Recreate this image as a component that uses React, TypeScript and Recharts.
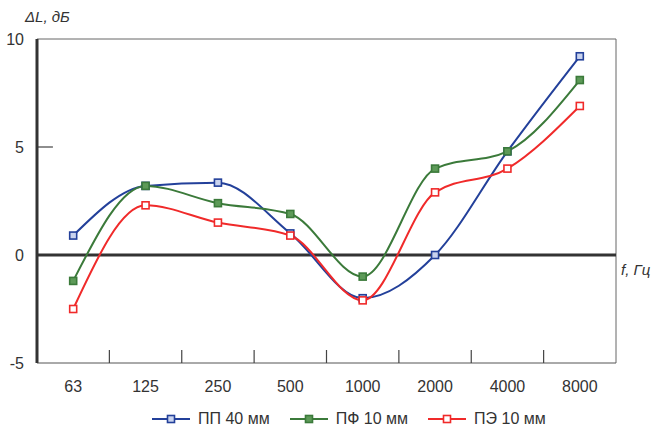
import React from 'react'
import { LineChart, Line, XAxis, YAxis, ReferenceLine } from 'recharts'

const categories = ['63', '125', '250', '500', '1000', '2000', '4000', '8000']
const ppValues = [0.9, 3.2, 3.35, 1.0, -2.0, 0, 4.8, 9.2]
const pfValues = [-1.2, 3.2, 2.4, 1.9, -1.0, 4.0, 4.8, 8.1]
const peValues = [-2.5, 2.3, 1.5, 0.9, -2.1, 2.9, 4.0, 6.9]
const yTicks = [-5, 0, 5, 10]

const series = [
  { key: 'pp', name: 'ПП 40 мм', color: '#23409a', fill: '#c9d3ee' },
  { key: 'pf', name: 'ПФ 10 мм', color: '#3b7a3a', fill: '#5d9a58' },
  { key: 'pe', name: 'ПЭ 10 мм', color: '#f02a2a', fill: '#ffffff' },
]

// each frequency sits in the middle of its own band
const data = categories.map((f, i) => ({
  pos: i,
  f,
  pp: ppValues[i],
  pf: pfValues[i],
  pe: peValues[i],
}))
const catTicks = categories.map((_, i) => i)
const bandEdges = categories.slice(1).map((_, i) => i + 0.5)
const xDomain = [-0.5, categories.length - 0.5]

const FONT = '"Liberation Sans", Arial, sans-serif'

const squareDot = (stroke: string, fill: string) => (props: any) => {
  const { cx, cy, index } = props
  if (cx == null || cy == null) return <g key={`d-${index}`} />
  return (
    <rect
      key={`d-${index}`}
      x={cx - 3.5}
      y={cy - 3.5}
      width={7}
      height={7}
      stroke={stroke}
      strokeWidth={1.6}
      fill={fill}
    />
  )
}

// tick marks between categories, pointing up into the plot
const BandTick = (props: any) => {
  const { x, y } = props
  return <line x1={x} y1={y} x2={x} y2={y - 13} stroke="#444" strokeWidth={1.2} />
}

export default function App() {
  return (
    <div style={{ position: 'absolute', left: 0, top: 0, width: 668, height: 435, background: '#fff', fontFamily: FONT }}>
      <LineChart
        width={668}
        height={435}
        data={data}
        margin={{ top: 39, right: 52, bottom: 42, left: 0 }}
      >
        <XAxis
          dataKey="pos"
          type="number"
          domain={xDomain}
          ticks={catTicks}
          allowDataOverflow
          interval={0}
          tickFormatter={(v: number) => categories[v]}
          height={30}
          axisLine={{ stroke: '#555', strokeWidth: 1 }}
          tickLine={false}
          tickMargin={12}
          tick={{ fill: '#333', fontSize: 16, fontFamily: FONT }}
        />
        <XAxis
          xAxisId="n"
          dataKey="pos"
          type="number"
          domain={xDomain}
          ticks={bandEdges}
          allowDataOverflow
          interval={0}
          mirror
          height={1}
          axisLine={false}
          tickLine={false}
          tickSize={0}
          tickMargin={0}
          tick={<BandTick />}
        />
        <YAxis
          domain={[-5, 10]}
          ticks={yTicks}
          width={37}
          axisLine={{ stroke: '#333', strokeWidth: 3 }}
          tickLine={false}
          tickMargin={7}
          tick={{ fill: '#333', fontSize: 16, fontFamily: FONT }}
        />
        <ReferenceLine y={10} stroke="#666" strokeWidth={1} />
        <ReferenceLine x={xDomain[1]} stroke="#666" strokeWidth={1} />
        <ReferenceLine
          segment={[{ x: xDomain[0], y: 5 }, { x: xDomain[0] + 0.22, y: 5 }]}
          stroke="#444"
          strokeWidth={1.2}
        />
        <ReferenceLine y={0} stroke="#333" strokeWidth={3} />
        {series.map((s) => (
          <Line
            key={s.key}
            type="monotone"
            dataKey={s.key}
            name={s.name}
            stroke={s.color}
            strokeWidth={2}
            dot={squareDot(s.color, s.fill)}
            activeDot={false}
            isAnimationActive={false}
          />
        ))}
      </LineChart>

      <div style={{ position: 'absolute', left: 25, top: 8, fontSize: 15, fontStyle: 'italic', color: '#333' }}>
        ΔL, дБ
      </div>
      <div style={{ position: 'absolute', left: 621, top: 261, fontSize: 15, fontStyle: 'italic', color: '#333', whiteSpace: 'nowrap' }}>
        f, Гц
      </div>

      <div style={{ position: 'absolute', left: 152, top: 410, display: 'flex', alignItems: 'center', fontSize: 16, color: '#333' }}>
        {series.map((s) => (
          <div key={s.key} style={{ display: 'flex', alignItems: 'center', marginRight: 20 }}>
            <svg width={38} height={10} style={{ marginRight: 8 }}>
              <line x1={0} y1={5} x2={38} y2={5} stroke={s.color} strokeWidth={2} />
              <rect x={15.5} y={1.5} width={7} height={7} stroke={s.color} strokeWidth={1.6} fill={s.fill} />
            </svg>
            <span style={{ whiteSpace: 'nowrap' }}>{s.name}</span>
          </div>
        ))}
      </div>
    </div>
  )
}
